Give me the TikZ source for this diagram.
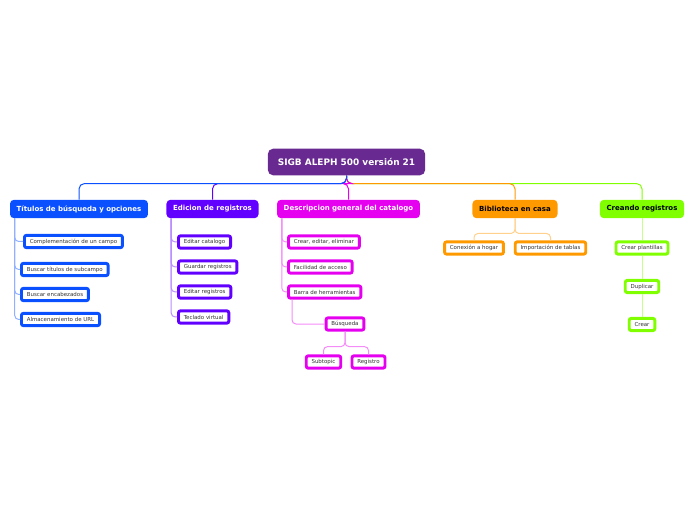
\documentclass[tikz,border=0pt]{standalone}
\usepackage{fontspec}
\setmainfont{DejaVu Sans}
\usetikzlibrary{positioning,calc}

\definecolor{rootpurple}{RGB}{104,42,145}
\definecolor{tblue}{RGB}{10,80,255}
\definecolor{evio}{RGB}{98,0,255}
\definecolor{dmag}{RGB}{230,0,240}
\definecolor{borange}{RGB}{255,153,0}
\definecolor{clime}{RGB}{128,255,0}

\begin{document}
\begin{tikzpicture}[x=0.75pt,y=-0.75pt,
 root/.style={fill=rootpurple,text=white,rounded corners=4pt,font=\fontsize{6.7}{8}\selectfont\bfseries,minimum height=20pt,inner xsep=7.5pt},
 topic/.style={fill=#1,rounded corners=3pt,font=\fontsize{5.25}{6}\selectfont\bfseries,minimum height=13.8pt,inner xsep=5pt},
 leaf/.style={draw=#1,line width=2.2pt,fill=white,rounded corners=1.5pt,text=black!80,font=\fontsize{4.1}{5}\selectfont,minimum height=9.2pt,inner xsep=4pt,inner ysep=0pt},
 trunk/.style={draw=#1!45,line width=0.75pt,rounded corners=3pt},
 spine/.style={draw=#1,line width=0.75pt,rounded corners=4pt}]
\useasboundingbox (0,0) rectangle (696,520);
% central topic and main topics
\node[root] (root) at (346.5,162) {SIGB ALEPH 500 versión 21};
\node[topic=tblue,text=white] (b1) at (79,209) {Títulos de búsqueda y opciones};
\node[topic=evio,text=white] (b2) at (212.5,209) {Edicion de registros};
\node[topic=dmag,text=white] (b3) at (348.5,209) {Descripcion general del catalogo};
\node[topic=borange,text=black] (b4) at (515,209) {Biblioteca en casa};
\node[topic=clime,text=black] (b5) at (642,209) {Creando registros};
% subtopics
\node[leaf=tblue,anchor=west] (c11) at (23,241.5) {Complementación de un campo};
\node[leaf=tblue,anchor=west] (c12) at (20,269.5) {Buscar títulos de subcampo};
\node[leaf=tblue,anchor=west] (c13) at (20,294.5) {Buscar encabezados};
\node[leaf=tblue,anchor=west] (c14) at (20,319.5) {Almacenamiento de URL};
\node[leaf=evio,anchor=west] (c21) at (177,242) {Editar catalogo};
\node[leaf=evio,anchor=west] (c22) at (177,267) {Guardar registros};
\node[leaf=evio,anchor=west] (c23) at (177,292) {Editar registros};
\node[leaf=evio,anchor=west] (c24) at (177,317) {Teclado virtual};
\node[leaf=dmag,anchor=west] (c31) at (287,242) {Crear, editar, eliminar};
\node[leaf=dmag,anchor=west] (c32) at (287,267) {Facilidad de acceso};
\node[leaf=dmag,anchor=west] (c33) at (287,292) {Barra de herramientas};
\node[leaf=dmag] (bq) at (345,324) {Búsqueda};
\node[leaf=dmag] (st) at (323.5,362) {Subtopic};
\node[leaf=dmag] (rg) at (368.5,362) {Registro};
\node[leaf=borange] (c41) at (474,248) {Conexión a hogar};
\node[leaf=borange] (c42) at (550.5,248) {Importación de tablas};
\node[leaf=clime] (c51) at (642,248) {Crear plantillas};
\node[leaf=clime] (c52) at (642,286.5) {Duplicar};
\node[leaf=clime] (c53) at (642,324.5) {Crear};
% connectors
\foreach \b/\c in {b5/clime,b4/borange,b3/dmag,b2/evio,b1/tblue}
  \draw[spine=\c] (root.south) -- ++(0,8) -| (\b.north);
\foreach \c in {c11,c12,c13,c14}
  \draw[trunk=tblue] ($(b1.south west)+(5,0)$) |- (\c.west);
\foreach \c in {c21,c22,c23,c24}
  \draw[trunk=evio] ($(b2.south west)+(5,0)$) |- (\c.west);
\foreach \c in {c31,c32,c33}
  \draw[trunk=dmag] ($(b3.south west)+(5,0)$) |- (\c.west);
\draw[trunk=dmag] ($(c33.south west)+(5,0)$) |- (bq.west);
\foreach \c in {st,rg}
  \draw[trunk=dmag] (bq.south) -- ++(0,15) -| (\c.north);
\foreach \c in {c41,c42}
  \draw[trunk=borange] (b4.south) -- ++(0,15) -| (\c.north);
\draw[trunk=clime] (b5.south) -- (c51.north);
\draw[trunk=clime] (c51.south) -- (c52.north);
\draw[trunk=clime] (c52.south) -- (c53.north);
\end{tikzpicture}
\end{document}
